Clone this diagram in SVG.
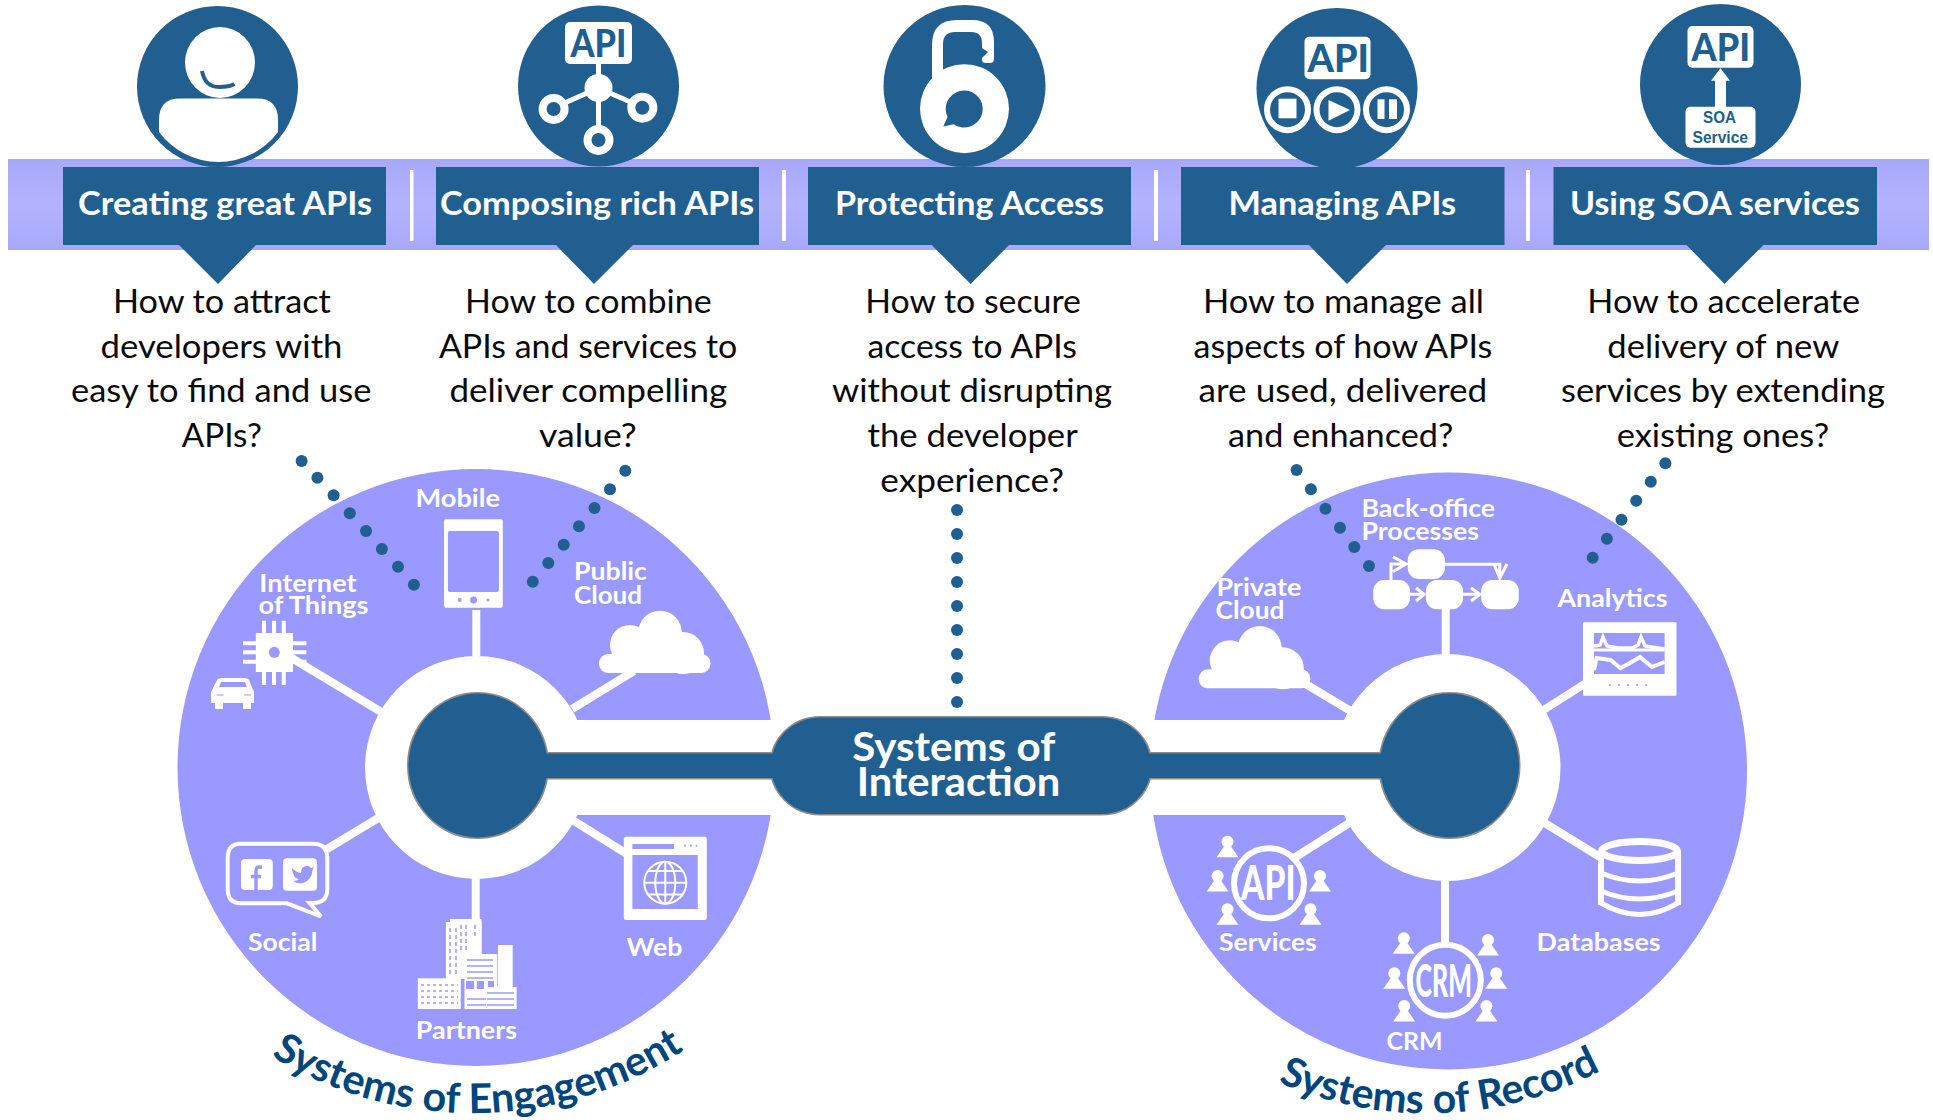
<svg xmlns="http://www.w3.org/2000/svg" xmlns:xlink="http://www.w3.org/1999/xlink" width="1933" height="1120" viewBox="0 0 1933 1120">
<style>
text{font-family:Lato,"Open Sans","Noto Sans",sans-serif}
.dk{fill:#225f91}
.w{fill:#fff}
.lav{fill:#9999ff}
.body{font-size:33px;fill:#0a0a0a}
.head{font-size:33px;font-weight:700;fill:#fff}
.lbl{font-size:25px;font-weight:700;fill:#fff}
.api{font-size:38px;font-weight:900;fill:#225f91}
.curve{font-size:41px;font-weight:700;fill:#00467c}
.lk{stroke:#fff;stroke-width:8;fill:none}
.ring{fill:none;stroke:#fff}
.thin{fill:none;stroke:#9999ff;stroke-width:1.3}
.arw{fill:none;stroke:#fff;stroke-width:3}
</style>
<defs>
<linearGradient id="band" x1="0" y1="0" x2="0" y2="1"><stop offset="0" stop-color="#a8a8fa"/><stop offset=".5" stop-color="#b3b3fd"/><stop offset="1" stop-color="#a8a8fa"/></linearGradient>
<g id="person"><circle cx="0" cy="0" r="6"/><path d="M-3,4H3L11,15.5H-11Z"/></g>
<g id="cloud"><circle cx="660" cy="632.5" r="21.8"/><circle cx="630" cy="645" r="20"/><circle cx="683" cy="653" r="21"/><rect x="599" y="654" width="111.5" height="19" rx="9"/><rect x="625" y="640" width="60" height="20"/></g>
<path id="arcL" d="M271,1056A385,385 0 0 0 690,1046"/>
<path id="arcR" d="M1278,1082A373,373 0 0 0 1606,1068"/>
</defs>

<rect x="8" y="159" width="1921" height="91" fill="url(#band)"/>
<g fill="#fff"><rect x="410" y="170" width="3.5" height="71"/><rect x="782" y="170" width="4" height="71"/><rect x="1154" y="170" width="4" height="71"/><rect x="1526" y="170" width="4" height="71"/></g>

<g id="systems-of-engagement">
<circle class="lav" cx="476" cy="767.5" r="298.5"/>
</g>
<g id="systems-of-record">
<circle class="lav" cx="1448.5" cy="771" r="298.5"/>
</g>
<rect class="w" x="500" y="720" width="930" height="95"/>
<circle class="w" cx="476.5" cy="767.5" r="111.5"/>
<circle class="w" cx="1447" cy="767.5" r="113.5"/>

<g id="connectors">
<line class="lk" x1="476.3" y1="610" x2="476.3" y2="656"/>
<line class="lk" x1="290" y1="657" x2="383" y2="713"/>
<line class="lk" x1="634" y1="671" x2="572" y2="709"/>
<line class="lk" x1="327" y1="849" x2="380" y2="817"/>
<line class="lk" x1="627" y1="854" x2="574" y2="821"/>
<line class="lk" x1="475.7" y1="878" x2="475.7" y2="920"/>
<line class="lk" x1="1445.7" y1="608" x2="1445.7" y2="656"/>
<line class="lk" x1="1304" y1="683" x2="1354" y2="713"/>
<line class="lk" x1="1586" y1="683" x2="1542" y2="711"/>
<line class="lk" x1="1294" y1="858" x2="1354" y2="820"/>
<line class="lk" x1="1600" y1="857" x2="1543" y2="822"/>
<line class="lk" x1="1445" y1="878" x2="1445" y2="943"/>
</g>

<g id="dots" class="dk">
<circle cx="301.6" cy="461" r="6"/><circle cx="317.4" cy="477.7" r="6"/><circle cx="333.6" cy="495.3" r="6"/><circle cx="349.8" cy="513.3" r="6"/><circle cx="366" cy="531" r="6"/><circle cx="381.9" cy="549" r="6"/><circle cx="398" cy="566.7" r="6"/><circle cx="413.9" cy="584.7" r="6"/>
<circle cx="532.8" cy="581.7" r="6"/><circle cx="548.3" cy="563" r="6"/><circle cx="563.7" cy="544.7" r="6"/><circle cx="579" cy="526.3" r="6"/><circle cx="594.5" cy="508" r="6"/><circle cx="610" cy="489.3" r="6"/><circle cx="625.3" cy="470.7" r="6"/>
<circle cx="957" cy="510" r="6"/><circle cx="957" cy="534" r="6"/><circle cx="957" cy="558" r="6"/><circle cx="957" cy="582" r="6"/><circle cx="957" cy="606" r="6"/><circle cx="957" cy="630" r="6"/><circle cx="957" cy="654" r="6"/><circle cx="957" cy="678" r="6"/><circle cx="957" cy="702" r="6"/>
<circle cx="1296.6" cy="470" r="6"/><circle cx="1310.9" cy="489.3" r="6"/><circle cx="1325.5" cy="508.7" r="6"/><circle cx="1340" cy="527.7" r="6"/><circle cx="1354.3" cy="547" r="6"/><circle cx="1369" cy="566" r="6"/>
<circle cx="1592.7" cy="557.7" r="6"/><circle cx="1606.9" cy="538.7" r="6"/><circle cx="1621.5" cy="519.7" r="6"/><circle cx="1636.2" cy="500.7" r="6"/><circle cx="1650.8" cy="481.7" r="6"/><circle cx="1665.4" cy="463.3" r="6"/>
</g>

<g id="systems-of-interaction">
<g fill="#8c8c8c" stroke="#8c8c8c" stroke-width="3">
<ellipse cx="478" cy="765.5" rx="69.5" ry="72"/><ellipse cx="1449.5" cy="765.5" rx="69.5" ry="72"/>
<rect x="520" y="753.5" width="900" height="24.5"/>
<rect x="771" y="717.5" width="380" height="96.5" rx="49" ry="48"/>
</g>
<g class="dk">
<ellipse cx="478" cy="765.5" rx="69.5" ry="72"/><ellipse cx="1449.5" cy="765.5" rx="69.5" ry="72"/>
<rect x="520" y="753.5" width="900" height="24.5"/>
<rect x="771" y="717.5" width="380" height="96.5" rx="49" ry="48"/>
</g>
<text x="852.3" y="761" font-size="41" font-weight="700" fill="#fff" textLength="203" lengthAdjust="spacingAndGlyphs">Systems of</text>
<text x="856.7" y="796" font-size="41" font-weight="700" fill="#fff" textLength="203.5" lengthAdjust="spacingAndGlyphs">Interaction</text>
</g>

<g id="node-creating-great-apis">
<circle class="dk" cx="217.5" cy="86.5" r="80.5"/>
<ellipse class="w" cx="220" cy="62.5" rx="35" ry="35.5"/>
<path d="M202,71Q205,87 219,87Q229,87 234.5,84" fill="none" stroke="#225f91" stroke-width="4"/>
<path class="w" d="M159,132V120Q159,98.500 180,98.500H257Q278,98.500 278,120V132A74,74 0 0 1 159,132Z"/>
<rect class="dk" x="63" y="167" width="323" height="78"/><path class="dk" d="M178,244H257L218,284Z"/>
<text class="head" x="78" y="215" textLength="294" lengthAdjust="spacingAndGlyphs">Creating great APIs</text>
<text class="body" x="112.900" y="313" textLength="218" lengthAdjust="spacingAndGlyphs">How to attract</text>
<text class="body" x="100.500" y="357.500" textLength="242" lengthAdjust="spacingAndGlyphs">developers with</text>
<text class="body" x="71" y="402.200" textLength="300.400" lengthAdjust="spacingAndGlyphs">easy to find and use</text>
<text class="body" x="181.800" y="447.200" textLength="80.200" lengthAdjust="spacingAndGlyphs">APIs?</text>
</g>

<g id="node-composing-rich-apis">
<circle class="dk" cx="598.500" cy="86" r="80.500"/>
<g stroke="#fff" stroke-width="5"><line x1="598.500" y1="64" x2="598.500" y2="130"/><line x1="598.500" y1="88" x2="560" y2="105"/><line x1="598.500" y1="88" x2="635" y2="104"/></g>
<circle class="w" cx="598.500" cy="88" r="14"/>
<g class="ring" stroke-width="8"><circle cx="553.600" cy="109" r="11"/><circle cx="642.300" cy="107.700" r="11"/><circle cx="598.500" cy="140" r="11"/></g>
<rect class="w" x="565" y="22" width="67" height="42" rx="5"/>
<text class="api" x="570.400" y="56.700" textLength="56" lengthAdjust="spacingAndGlyphs">API</text>
<rect class="dk" x="436" y="167" width="323" height="78"/><path class="dk" d="M555,244H634L594,284Z"/>
<text class="head" x="440" y="215" textLength="314" lengthAdjust="spacingAndGlyphs">Composing rich APIs</text>
<text class="body" x="465" y="313" textLength="246.600" lengthAdjust="spacingAndGlyphs">How to combine</text>
<text class="body" x="438.900" y="357.500" textLength="298.400" lengthAdjust="spacingAndGlyphs">APIs and services to</text>
<text class="body" x="449.400" y="402.200" textLength="277.800" lengthAdjust="spacingAndGlyphs">deliver compelling</text>
<text class="body" x="539" y="447.200" textLength="97.800" lengthAdjust="spacingAndGlyphs">value?</text>
</g>

<g id="node-protecting-access">
<circle class="dk" cx="964.500" cy="86" r="81"/>
<path class="w" d="M932,85V45Q932,20 957,20H972Q994,20 994,42V59Q994,63 990,63H986Q981,63 982,58L988,52L982,48V43Q982,32 971,32H955Q943,32 943,44V72Z"/>
<path class="w" fill-rule="evenodd" d="M920,108.700a44.500,44.500 0 1 0 89,0a44.500,44.500 0 1 0 -89,0ZM945.700,109a18.500,18.500 0 1 1 8,15.200L943.300,126.500L947.500,117Q945.700,113 945.700,109Z"/>
<rect class="dk" x="808" y="167" width="323" height="78"/><path class="dk" d="M930.700,244H1010L970.700,284Z"/>
<text class="head" x="835" y="215" textLength="269" lengthAdjust="spacingAndGlyphs">Protecting Access</text>
<text class="body" x="865.200" y="313" textLength="215.800" lengthAdjust="spacingAndGlyphs">How to secure</text>
<text class="body" x="867.500" y="357.500" textLength="209.400" lengthAdjust="spacingAndGlyphs">access to APIs</text>
<text class="body" x="832" y="402.200" textLength="280" lengthAdjust="spacingAndGlyphs">without disrupting</text>
<text class="body" x="867.500" y="447.200" textLength="210.300" lengthAdjust="spacingAndGlyphs">the developer</text>
<text class="body" x="880.300" y="492.200" textLength="183.700" lengthAdjust="spacingAndGlyphs">experience?</text>
</g>

<g id="node-managing-apis">
<circle class="dk" cx="1337" cy="88.500" r="80.500"/>
<rect class="w" x="1304.500" y="36.700" width="66" height="42.600" rx="5"/>
<text class="api" x="1307.500" y="71.700" textLength="61.500" lengthAdjust="spacingAndGlyphs">API</text>
<g class="ring" stroke-width="6"><circle cx="1287.500" cy="109.700" r="20.500"/><circle cx="1337" cy="109.700" r="20.500"/><circle cx="1386.500" cy="109.700" r="20.500"/></g>
<rect class="w" x="1278.500" y="98.700" width="18" height="19.600"/>
<path class="w" d="M1328.500,100V120.700L1350,110Z"/>
<rect class="w" x="1377.500" y="99.300" width="7" height="19.700"/><rect class="w" x="1389" y="99.300" width="8" height="19.700"/>
<rect class="dk" x="1181" y="167" width="323.500" height="78"/><path class="dk" d="M1308,244H1387L1347,284Z"/>
<text class="head" x="1228.500" y="215" textLength="227.500" lengthAdjust="spacingAndGlyphs">Managing APIs</text>
<text class="body" x="1203" y="313" textLength="281" lengthAdjust="spacingAndGlyphs">How to manage all</text>
<text class="body" x="1193.500" y="357.500" textLength="298.900" lengthAdjust="spacingAndGlyphs">aspects of how APIs</text>
<text class="body" x="1198.500" y="402.200" textLength="288.800" lengthAdjust="spacingAndGlyphs">are used, delivered</text>
<text class="body" x="1228" y="447.200" textLength="225.400" lengthAdjust="spacingAndGlyphs">and enhanced?</text>
</g>

<g id="node-using-soa-services">
<circle class="dk" cx="1720.500" cy="84.500" r="80.500"/>
<rect class="w" x="1687.500" y="26" width="66" height="41.700" rx="5"/>
<text class="api" x="1691.500" y="60.700" textLength="58.500" lengthAdjust="spacingAndGlyphs">API</text>
<path class="w" d="M1720.500,68.300L1730,80.700H1726V107H1715V80.700H1711Z"/>
<rect class="w" x="1685.500" y="106.700" width="70" height="41" rx="5"/>
<text x="1703" y="123.300" font-size="16" font-weight="700" class="dk" style="font-family:'Liberation Sans',Arial,sans-serif" textLength="33" lengthAdjust="spacingAndGlyphs">SOA</text>
<text x="1692.500" y="142.700" font-size="16" font-weight="700" class="dk" style="font-family:'Liberation Sans',Arial,sans-serif" textLength="55.500" lengthAdjust="spacingAndGlyphs">Service</text>
<rect class="dk" x="1553.500" y="167" width="323.500" height="78"/><path class="dk" d="M1685.500,244H1764.500L1724.500,284Z"/>
<text class="head" x="1570" y="215" textLength="290" lengthAdjust="spacingAndGlyphs">Using SOA services</text>
<text class="body" x="1587.300" y="313" textLength="272.700" lengthAdjust="spacingAndGlyphs">How to accelerate</text>
<text class="body" x="1607.300" y="357.500" textLength="232" lengthAdjust="spacingAndGlyphs">delivery of new</text>
<text class="body" x="1561" y="402.200" textLength="324" lengthAdjust="spacingAndGlyphs">services by extending</text>
<text class="body" x="1616.700" y="447.200" textLength="212.600" lengthAdjust="spacingAndGlyphs">existing ones?</text>
</g>

<g id="eng-mobile">
<rect class="w" x="444" y="519.300" width="58.800" height="88.400" rx="2"/>
<rect class="lav" x="447.900" y="531" width="51" height="61" rx="2"/>
<circle class="lav" cx="473.600" cy="600" r="3.500"/><circle class="lav" cx="459.700" cy="600" r="2"/><circle class="lav" cx="488" cy="600" r="1.500"/>
<text class="lbl" x="415.500" y="506.500" textLength="84.500" lengthAdjust="spacingAndGlyphs">Mobile</text>
</g>
<g id="eng-iot">
<rect class="w" x="255.800" y="633" width="37.200" height="39"/>
<g stroke="#fff" stroke-width="4"><path d="M264,620.700V685M274,620.700V685M283.800,620.700V685M243,643.300H306.400M243,652.300H306.400M243,661.700H306.400"/></g>
<circle class="w" cx="274.300" cy="652.300" r="15"/><circle class="lav" cx="274.300" cy="652.300" r="5.500"/>
<path class="w" d="M217,680Q218,678 222,678H244Q248,678 249,680L254,692V703H251V709H243V703H223V709H215V703H211V692Z"/>
<path class="lav" d="M221,682H245L247,687H219Z"/>
<rect class="lav" x="216.600" y="694.500" width="7" height="1"/><rect class="lav" x="244" y="694.500" width="7" height="1"/>
<text class="lbl" x="259.300" y="591.500" textLength="97.300" lengthAdjust="spacingAndGlyphs">Internet</text>
<text class="lbl" x="258.500" y="614" textLength="110" lengthAdjust="spacingAndGlyphs">of Things</text>
</g>
<g id="eng-public-cloud">
<use xlink:href="#cloud" href="#cloud" class="w"/>
<text class="lbl" x="574" y="580" textLength="73" lengthAdjust="spacingAndGlyphs">Public</text>
<text class="lbl" x="574" y="603.500" textLength="68" lengthAdjust="spacingAndGlyphs">Cloud</text>
</g>
<g id="eng-social">
<path d="M241,843.700H313Q327.300,843.700 327.300,858V889Q327.300,903 313,903H309.500L321,916.500L287,903.300H241Q227.700,903.300 227.700,889V858Q227.700,843.700 241,843.700Z" fill="none" stroke="#fff" stroke-width="4"/>
<rect class="w" x="241" y="859" width="31.800" height="31" rx="4"/>
<rect class="w" x="283" y="858.300" width="34" height="32.400" rx="4"/>
<path d="M262,867H259Q256,867 256,871V890M251,876.500H261" fill="none" stroke="#9999ff" stroke-width="3.500"/>
<path class="lav" d="M292,868Q297,873 301,873Q301,866 307,866Q310,866 311,868L314,867L312.500,870Q312,880 303,883Q297,884 293,881Q297,881 299,879Q294,878 294,875Q292,873 292,868Z"/>
<text class="lbl" x="247.900" y="950.500" textLength="69.500" lengthAdjust="spacingAndGlyphs">Social</text>
</g>
<g id="eng-web">
<rect class="w" x="623.800" y="836.700" width="83" height="83.300" rx="2"/>
<rect class="lav" x="632.400" y="855" width="65.300" height="54"/>
<rect class="lav" x="632.400" y="844" width="41.600" height="5"/>
<circle class="lav" cx="685" cy="845.700" r="1"/><circle class="lav" cx="691" cy="845.700" r="1"/><circle class="lav" cx="696.500" cy="845.700" r="1"/>
<g fill="none" stroke="#fff" stroke-width="2"><circle cx="665.300" cy="882.700" r="21"/><ellipse cx="665.300" cy="882.700" rx="10" ry="21"/><path d="M665.300,861.700V903.700M644.300,882.700H686.300M648,871H682.600M648,894.400H682.600"/></g>
<text class="lbl" x="626.500" y="955.500" textLength="55.800" lengthAdjust="spacingAndGlyphs">Web</text>
</g>
<g id="eng-partners">
<g class="w"><rect x="450" y="919" width="31.500" height="60"/><rect x="445.900" y="922" width="35.600" height="57"/><rect x="464.500" y="954" width="32.800" height="55"/><rect x="498" y="945" width="14.700" height="64"/><rect x="417.800" y="978.300" width="43" height="30.700"/><rect x="486" y="987" width="30.600" height="22"/></g>
<g fill="none" stroke="#9999ff" stroke-width="1.500">
<path d="M450,928V974M456,928V974M461,925V950M466,925V950M475,925V936" stroke-dasharray="4 3"/>
<path d="M421,985H458M421,991H458M421,997H458M421,1003H458" stroke-dasharray="3 3"/>
<path d="M467,960H493M467,966H493M467,972H493M467,978H493M467,999H486M467,1005H486M487,993H514M487,999H514M487,1005H514"/>
</g>
<rect class="lav" x="466" y="981" width="8" height="8"/><rect class="lav" x="477" y="981" width="7" height="8"/><rect class="lav" x="488" y="981" width="6" height="6"/>
<text class="lbl" x="415.800" y="1038.500" textLength="101.200" lengthAdjust="spacingAndGlyphs">Partners</text>
</g>

<g id="rec-back-office">
<g class="w"><rect x="1407.700" y="549.300" width="37.200" height="29.700" rx="11"/><rect x="1373.300" y="580" width="36.700" height="29.300" rx="11"/><rect x="1425.900" y="580" width="37.100" height="29.300" rx="11"/><rect x="1481.200" y="580" width="37.600" height="29.300" rx="11"/></g>
<g class="arw"><path d="M1410,594.300H1423M1416,588L1424,594.300L1416,601"/><path d="M1463,594.300H1479M1471,588L1480,594.300L1471,601"/><path d="M1444.900,564.300H1499.800V577M1494,564L1499.800,578L1507,564"/><path d="M1391,580V564H1406M1393,556.700L1406,564L1393,571.700"/></g>
<text class="lbl" x="1361.500" y="516.500" textLength="133.500" lengthAdjust="spacingAndGlyphs">Back-office</text>
<text class="lbl" x="1361.500" y="539.500" textLength="117.400" lengthAdjust="spacingAndGlyphs">Processes</text>
</g>
<g id="rec-private-cloud">
<use xlink:href="#cloud" href="#cloud" class="w" transform="translate(599.800 15.300)"/>
<text class="lbl" x="1216.400" y="596" textLength="85" lengthAdjust="spacingAndGlyphs">Private</text>
<text class="lbl" x="1215.600" y="619" textLength="68.800" lengthAdjust="spacingAndGlyphs">Cloud</text>
</g>
<g id="rec-analytics">
<rect class="w" x="1583" y="622.300" width="93.500" height="73.400" rx="1"/>
<rect class="lav" x="1594" y="633" width="70.600" height="41"/>
<path d="M1594,646L1600,645L1603,637L1607,646L1618,648L1632,648L1638,645L1641,637L1645,646L1664.600,649" fill="none" stroke="#fff" stroke-width="3.500"/>
<path d="M1594,650H1664.600" stroke="#fff" stroke-width="3"/>
<path d="M1594,670L1596.700,658L1610.500,660L1620.400,668L1630,663L1640,657L1652,667L1664.600,662" fill="none" stroke="#fff" stroke-width="4"/>
<path d="M1609,685H1652" stroke="#9999ff" stroke-width="1.500" stroke-dasharray="2 7"/>
<text class="lbl" x="1557.500" y="606.500" textLength="110" lengthAdjust="spacingAndGlyphs">Analytics</text>
</g>
<g id="rec-services">
<circle class="ring" cx="1269" cy="883.300" r="35" stroke-width="6"/>
<text x="1241" y="900" font-size="48" font-weight="900" fill="#fff" textLength="54.500" lengthAdjust="spacingAndGlyphs">API</text>
<g class="w"><use xlink:href="#person" href="#person" x="1227.500" y="841.700"/><use xlink:href="#person" href="#person" x="1217.600" y="876"/><use xlink:href="#person" href="#person" x="1320" y="876"/><use xlink:href="#person" href="#person" x="1227.500" y="909.300"/><use xlink:href="#person" href="#person" x="1310.500" y="909.300"/></g>
<text class="lbl" x="1219" y="950.500" textLength="97.800" lengthAdjust="spacingAndGlyphs">Services</text>
</g>
<g id="rec-crm">
<circle class="ring" cx="1445.300" cy="980.300" r="35.500" stroke-width="6"/>
<text x="1415.600" y="996.700" font-size="46" font-weight="900" fill="#fff" textLength="56.400" lengthAdjust="spacingAndGlyphs">CRM</text>
<g class="w"><use xlink:href="#person" href="#person" x="1403.800" y="938.300"/><use xlink:href="#person" href="#person" x="1488" y="940"/><use xlink:href="#person" href="#person" x="1394.300" y="973.300"/><use xlink:href="#person" href="#person" x="1496.200" y="973.300"/><use xlink:href="#person" href="#person" x="1404.200" y="1006"/><use xlink:href="#person" href="#person" x="1486.400" y="1006"/></g>
<text class="lbl" x="1386.400" y="1050" textLength="56.100" lengthAdjust="spacingAndGlyphs">CRM</text>
</g>
<g id="rec-databases">
<g fill="none" stroke="#fff"><ellipse cx="1639.500" cy="851" rx="38" ry="9.500" stroke-width="7"/><path d="M1601,851V905M1678,851V905" stroke-width="6"/><path d="M1601,873Q1639.500,889 1678,873M1601,891Q1639.500,907 1678,891M1601,903Q1639.500,926 1678,903" stroke-width="5"/></g>
<text class="lbl" x="1536.600" y="950.500" textLength="124.100" lengthAdjust="spacingAndGlyphs">Databases</text>
</g>

<text class="curve"><textPath xlink:href="#arcL" href="#arcL" textLength="436" lengthAdjust="spacingAndGlyphs">Systems of Engagement</textPath></text>
<text class="curve"><textPath xlink:href="#arcR" href="#arcR" textLength="334" lengthAdjust="spacingAndGlyphs">Systems of Record</textPath></text>
</svg>
